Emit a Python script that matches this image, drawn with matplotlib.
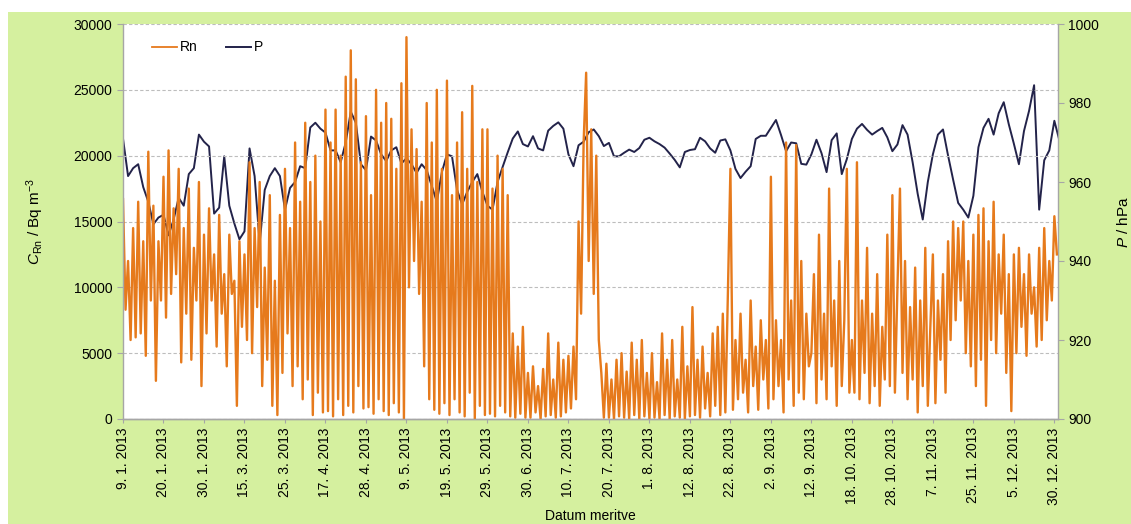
import matplotlib
matplotlib.use("Agg")
import matplotlib.pyplot as plt
from matplotlib.lines import Line2D
from matplotlib.patches import Rectangle
import numpy as np

plt.rcParams["font.family"] = ["Liberation Sans", "DejaVu Sans"]
plt.rcParams["mathtext.fontset"] = "custom"
plt.rcParams["mathtext.rm"] = "Liberation Sans"
plt.rcParams["mathtext.it"] = "Liberation Sans:italic"

# category labels along the time axis
dates = ["9. 1. 2013", "20. 1. 2013", "30. 1. 2013", "15. 3. 2013", "25. 3. 2013",
         "17. 4. 2013", "28. 4. 2013", "9. 5. 2013", "19. 5. 2013", "29. 5. 2013",
         "30. 6. 2013", "10. 7. 2013", "20. 7. 2013", "1. 8. 2013", "12. 8. 2013",
         "22. 8. 2013", "2. 9. 2013", "12. 9. 2013", "18. 10. 2013", "28. 10. 2013",
         "7. 11. 2013", "25. 11. 2013", "5. 12. 2013", "30. 12. 2013"]

# samples between two consecutive date labels
RN_PER_TICK = 16
P_PER_TICK = 8

# radon concentration, Bq/m3 (one row per label interval)
rn = [
    16700, 8300, 12000, 6000, 14500, 6200, 16500, 6500, 13500, 4800, 20300, 9000, 16200, 2900, 13500, 9000,
    18400, 7700, 20400, 9500, 16000, 11000, 19000, 4300, 14500, 8000, 17500, 4500, 13000, 9000, 18000, 2500,
    14000, 6500, 16000, 9000, 12500, 5500, 15500, 8000, 11000, 4000, 14000, 9500, 10500, 1000, 13500, 7000,
    12500, 6000, 19500, 5000, 14500, 8500, 18000, 2500, 11500, 4500, 17000, 1000, 10500, 300, 15500, 3500,
    19000, 6500, 14500, 2500, 21000, 4000, 16500, 1500, 22500, 3000, 18000, 300, 20000, 2000, 15000, 500,
    23500, 600, 21000, 200, 23500, 1500, 20000, 300, 26000, 1000, 28000, 500, 25800, 2500, 19500, 800,
    23000, 900, 17000, 400, 25000, 1500, 22500, 600, 24000, 300, 22800, 1200, 19000, 500, 25500, 0,
    29000, 10000, 22000, 12000, 20500, 9500, 16500, 4000, 24000, 1500, 21000, 700, 25000, 400, 19000, 1200,
    25700, 300, 17000, 1500, 21000, 500, 23300, 200, 19000, 2000, 25300, 0, 18000, 1000, 22000, 300,
    22000, 400, 17500, 200, 20000, 1000, 19000, 500, 17000, 200, 6500, 100, 5500, 400, 7000, 100,
    3500, 100, 4000, 500, 2500, 0, 3800, 200, 6500, 300, 3000, 100, 5800, 200, 4500, 500,
    4800, 800, 5500, 1500, 15000, 8000, 21000, 26300, 12000, 22000, 9500, 20000, 6000, 3500, 100, 4200,
    100, 3000, 0, 4500, 200, 5000, 100, 3600, 0, 5800, 300, 4500, 0, 6000, 200, 3500,
    0, 5000, 100, 2800, 0, 6500, 300, 4500, 0, 6000, 200, 3000, 100, 7000, 0, 4000,
    200, 8500, 300, 4500, 100, 5500, 800, 3500, 200, 6500, 1000, 7000, 300, 8000, 500, 9500,
    19000, 700, 6000, 1500, 8000, 2000, 4500, 500, 9000, 2500, 5500, 700, 7500, 3000, 6000, 800,
    18400, 1500, 7500, 2500, 6000, 500, 21000, 3000, 9000, 1000, 20800, 2000, 12000, 1500, 8000, 4000,
    5000, 11000, 1200, 14000, 3000, 8000, 1500, 17500, 4000, 9000, 1000, 12000, 2500, 7500, 19000, 2000,
    6000, 2000, 19500, 1500, 9000, 3500, 13000, 1200, 8000, 2500, 11000, 1000, 7000, 3000, 14000, 2500,
    17000, 2000, 10000, 17500, 3500, 12000, 1500, 8500, 3000, 11500, 500, 9000, 2500, 13000, 1000, 7000,
    12500, 1200, 9000, 4500, 11000, 2000, 13500, 6000, 15000, 7500, 14500, 9000, 15000, 5000, 12000, 4000,
    14000, 2500, 15500, 4500, 16000, 1000, 13500, 6000, 16500, 5000, 12500, 8000, 14000, 3500, 11000, 600,
    12500, 5000, 13000, 7000, 11000, 4800, 12500, 8000, 10000, 5500, 13000, 6000, 14500, 7500, 12000, 9000,
    15400, 12500,
]

# air pressure, hPa
p = [
    971, 961.5, 963.5, 964.5, 958.7, 955, 949.3, 951,
    951.7, 946.5, 950.5, 956, 954, 962, 963.5, 972,
    970.2, 969, 952, 953.5, 966.5, 954, 949.5, 945.5,
    947.5, 968.5, 961.5, 944.5, 958, 961.5, 963.5, 961.5,
    953, 958.5, 960, 964, 963.5, 973.8, 975, 973.5,
    972.5, 968, 968, 965, 970, 977.8, 975, 964.5,
    963, 971.5, 970.5, 967, 965.3, 968, 968.8, 964.7,
    966, 964.5, 962.3, 964.5, 963, 959, 955, 962.5,
    967, 966.5, 958, 954.3, 957.5, 960, 962, 957.5,
    954, 953, 960, 963.8, 967.5, 971, 972.8, 969.6,
    969, 971.6, 968.5, 968, 973, 974.2, 975.1, 973.5,
    967, 964, 969.3, 970.2, 972.6, 973.3, 971.6, 969.1,
    969.9, 966.5, 966.5, 967.4, 968.2, 967.6, 968.6, 970.7,
    971.2, 970.3, 969.6, 968.7, 967.2, 965.6, 963.7, 967.6,
    968.1, 968.3, 971.2, 970.3, 968.5, 967.4, 970.5, 970.8,
    968, 963.3, 961, 962.6, 964, 970.9, 971.7, 971.7,
    973.7, 975.7, 971.9, 967.8, 970, 969.8, 964.6, 964.4,
    967, 970.7, 967.3, 962.5, 970.6, 972.3, 962, 965.8,
    970.9, 973.5, 974.7, 973.2, 972, 972.9, 973.7, 971.3,
    967.8, 969.5, 974.4, 972, 965, 957, 950.5, 960,
    967, 972, 973.3, 966.7, 960.6, 954.7, 953, 951,
    956.5, 968.8, 973.7, 976, 972, 977.4, 980.2, 974.6,
    969.7, 964.5, 972.9, 978, 984.5, 953, 965.5, 968,
    975.5, 970.5,
]

GREEN = "#d5f09f"
RN_COLOR = "#e67a1c"
P_COLOR = "#23234a"
AXIS_GRAY = "#a6a6a6"

fig = plt.figure(figsize=(11.31, 5.24), dpi=100, facecolor="white")
fig.patches.append(Rectangle((8 / 1131, 0), 1, 1 - 12 / 524, transform=fig.transFigure,
                             facecolor=GREEN, edgecolor="none", zorder=-1))

ax = fig.add_axes([123 / 1131, 1 - 419 / 524, 935 / 1131, 395 / 524])
ax2 = ax.twinx()
# radon on top of pressure, white plot area taken from the back axes
ax2.set_zorder(1)
ax.set_zorder(2)
ax.patch.set_visible(False)
ax2.patch.set_visible(True)
ax2.patch.set_facecolor("white")

rn_x = np.arange(len(rn)) / RN_PER_TICK
p_x = np.arange(len(p)) / P_PER_TICK
ax.plot(rn_x, rn, color=RN_COLOR, lw=1.7)
ax2.plot(p_x, p, color=P_COLOR, lw=1.4)

ax.set_xlim(0, 23.09)
ax.set_ylim(0, 30000)
ax2.set_ylim(900, 1000)

ax.set_yticks(np.arange(0, 30001, 5000))
ax2.set_yticks(np.arange(900, 1001, 20))
ax.set_xticks(np.arange(len(dates)))
ax.set_xticklabels(dates, rotation=90)

ax.grid(axis="y", color="#bdbdbd", linestyle=(0, (3, 2)), linewidth=0.8)
for a in (ax, ax2):
    a.spines["top"].set_visible(False)
    for s in ("left", "right", "bottom"):
        a.spines[s].set_color(AXIS_GRAY)
        a.spines[s].set_linewidth(1.0)
    a.tick_params(axis="both", colors=AXIS_GRAY, labelcolor="black", labelsize=10,
                  direction="out", length=4)
ax.spines["right"].set_visible(False)
ax2.spines["left"].set_visible(False)
ax.tick_params(axis="x", length=3, pad=3)

ax.set_ylabel(r"$C_{\mathrm{Rn}}$ / Bq m$^{-3}$", fontsize=11, labelpad=20)
ax2.set_ylabel(r"$P$ / hPa", fontsize=11, labelpad=12)
ax.set_xlabel("Datum meritve", fontsize=10, labelpad=3)

handles = [Line2D([], [], color=RN_COLOR, lw=1.3), Line2D([], [], color=P_COLOR, lw=1.4)]
ax.legend(handles, ["Rn", "P"], loc="upper left", bbox_to_anchor=(0.018, 0.99), ncol=2,
          frameon=False, fontsize=10, handlelength=1.8, handletextpad=0.2, columnspacing=2.0)

fig.savefig("out.png", dpi=100, facecolor=fig.get_facecolor())
